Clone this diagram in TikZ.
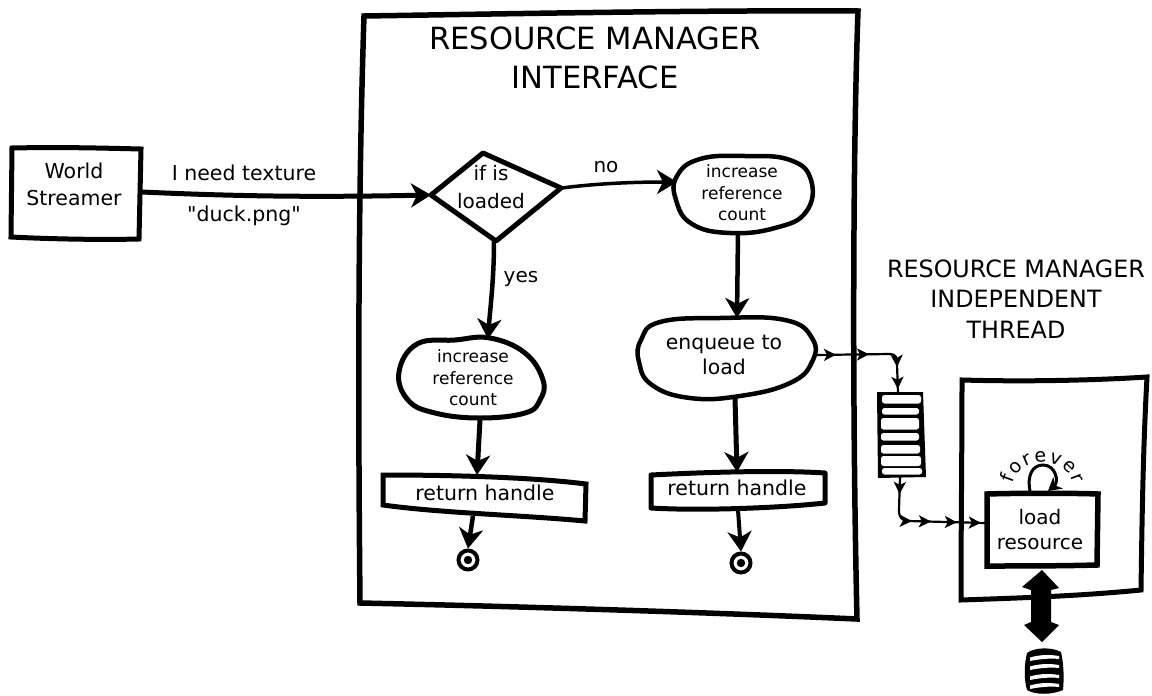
\documentclass[tikz,border=0pt]{standalone}
\usepackage{fontspec}
\setmainfont{DejaVu Sans}[Ligatures=TeXOff]
\usetikzlibrary{arrows.meta,decorations.markings,decorations.text}
\tikzset{
  outline/.style={draw=black,line width=#1,line join=miter,fill=none},
  outline/.default=5pt,
  label/.style={inner sep=0pt,align=center,text=black,font=\fontsize{20.5}{27}\selectfont},
  smalllabel/.style={label,font=\fontsize{17}{21.5}\selectfont},
  titlelabel/.style={label,font=\fontsize{30.6}{39}\selectfont},
  threadlabel/.style={label,font=\fontsize{23.8}{30.5}\selectfont},
  flow/.style={draw=black,line width=#1,-{Stealth[length=20pt,width=24pt,inset=6pt]}},
  flow/.default=4.5pt,
  thinflow/.style={draw=black,line width=2.2pt},
  tinytip/.tip={Stealth[length=12pt,width=12pt,inset=3pt]},
}
\begin{document}
\begin{tikzpicture}[x=1pt,y=-1pt]
\useasboundingbox (0,0) rectangle (1152,696);
\fill[white] (0,0) rectangle (1152,696);

% frames
\draw[outline=5.5pt] (364,16) .. controls (500,14) and (700,10) .. (858,11) .. controls (853,150) and (852,400) .. (857,619) .. controls (700,612) and (500,606) .. (360,603) .. controls (358,400) and (358,200) .. (364,16) -- cycle;
\draw[outline=5pt] (962,380) .. controls (1030,382) and (1100,380) .. (1147,377) .. controls (1143,450) and (1142,520) .. (1141,590) .. controls (1080,596) and (1020,598) .. (961,600) .. controls (961,530) and (962,450) .. (962,380) -- cycle;

% titles
\node[titlelabel] (title) at (595,58) {RESOURCE MANAGER\\INTERFACE};
\node[threadlabel] (threadtitle) at (1016,299) {RESOURCE MANAGER\\INDEPENDENT\\THREAD};

% world streamer
\draw[outline=5pt] (12,148) .. controls (60,147) and (100,148) .. (141,149) -- (139,239) .. controls (100,240) and (50,239) .. (11,237) -- cycle;
\node[label] (world) at (74,184) {World\\Streamer};
\coordinate (worldout) at (142,192);

% diamond
\draw[outline=5pt,line join=round] (431,195) -- (483,153) -- (561,188) -- (496,241) -- cycle;
\node[label,font=\fontsize{20}{28}\selectfont] (decision) at (491,187) {if is\\loaded};
\coordinate (decin) at (431,195);
\coordinate (decright) at (562,188);
\coordinate (decbottom) at (494,241);

% right column
\draw[outline=4.5pt] plot[smooth cycle,tension=0.75] coordinates {(677,176) (700,159) (745,156) (790,160) (811,180) (806,212) (775,228) (730,233) (692,224) (676,200)};
\node[smalllabel] (incr) at (742,193) {increase\\reference\\count};
\coordinate (incrin) at (677,182);
\coordinate (incrout) at (738,232);

\draw[outline=4.5pt] plot[smooth cycle,tension=0.75] coordinates {(641,340) (660,322) (720,318) (785,320) (812,338) (812,362) (790,383) (740,396) (690,398) (652,385) (639,362)};
\node[label,font=\fontsize{20.4}{25}\selectfont] (enq) at (724,355) {enqueue to\\load};
\coordinate (enqin) at (737,318);
\coordinate (enqdown) at (735,398);
\coordinate (enqright) at (815,355);

\draw[outline=5pt,line join=round] (651,475) .. controls (710,472) and (780,470) .. (825,473) -- (825,503) .. controls (780,508) and (700,511) .. (651,508) -- cycle;
\node[label] (rh2) at (737,488) {return handle};
\coordinate (rh2in) at (737,472);
\coordinate (rh2out) at (738,510);

\node[circle,draw=black,line width=4pt,minimum size=19pt,inner sep=0pt] (end2) at (741,563) {};
\fill[black] (end2.center) circle (4.2pt);

% left column
\draw[outline=5pt] plot[smooth cycle,tension=0.7] coordinates {(399,372) (417,344) (455,340) (490,338) (525,353) (543,380) (540,400) (525,413) (480,418) (435,413) (408,400)};
\node[smalllabel] (incl) at (473,378) {increase\\reference\\count};
\coordinate (inclin) at (488,339);
\coordinate (inclout) at (480,420);

\draw[outline=5pt] (383,475) .. controls (450,475) and (530,477) .. (586,484) -- (585,521) .. controls (520,515) and (440,513) .. (383,505) -- cycle;
\node[label] (rh1) at (485,493) {return handle};
\coordinate (rh1in) at (477,475);
\coordinate (rh1out) at (473,516);

\node[circle,draw=black,line width=4pt,minimum size=19pt,inner sep=0pt] (end1) at (468,560) {};
\fill[black] (end1.center) circle (4.2pt);

% labels
\node[label] (need) at (244,173) {I need texture};
\node[label] (duck) at (244,216) {"duck.png"};
\node[label,font=\fontsize{20}{24}\selectfont] (no) at (606,167) {no};
\node[label,font=\fontsize{20}{24}\selectfont] (yes) at (521,279) {yes};

% connectors
\draw[flow=5pt] (worldout) .. controls (250,197) and (330,197) .. (decin);
\draw[flow=3.5pt] (decright) .. controls (600,183) and (640,182) .. (incrin);
\draw[flow=4.5pt] (decbottom) .. controls (494,280) and (490,310) .. (inclin);
\draw[flow=4.5pt] (incrout) -- (enqin);
\draw[flow=5pt] (inclout) -- (rh1in);
\draw[flow=5pt] (enqdown) -- (rh2in);
\draw[flow=4.5pt] (rh1out) -- (end1.north);
\draw[flow=4pt] (rh2out) -- (end2.north);

% queue
\fill[black] (877,392) -- (923,392) -- (926,477) -- (878,478) -- cycle;
\foreach \ya/\yb/\xa/\xb in {395/403.5/882/921, 408/414.5/882/919, 418/429.5/881/919, 433/440.5/881/919, 445/453.5/881/920, 456/466/881/921, 468/474.5/882/922}{
  \fill[white,rounded corners=2.5pt] (\xa,\ya) -- (\xb,\ya) -- (\xb,\yb) -- (\xa,\yb) -- cycle;
}
\coordinate (qin) at (898,393);
\coordinate (qout) at (900,477);

% load resource
\draw[outline=5.5pt] (987,494) .. controls (1020,493) and (1070,493) .. (1098,494) -- (1097,565) .. controls (1060,566) and (1020,566) .. (987,566) -- cycle;
\node[label,font=\fontsize{20}{25}\selectfont] (load) at (1040,530) {load\\resource};
\coordinate (loadin) at (985,523);
\coordinate (loopa) at (1030,491);
\coordinate (loopb) at (1048,491);

% thin flows
\draw[thinflow,postaction={decorate},decoration={markings,
  mark=at position 21pt with {\arrow{tinytip}},
  mark=at position 54pt with {\arrow{tinytip}},
  mark=at position 92pt with {\arrow{tinytip}},
  mark=at position 114pt with {\arrow{tinytip}}}]
  (enqright) -- (890,354) .. controls (896,354) and (897,358) .. (897,364) -- (qin);
\draw[thinflow,postaction={decorate},decoration={markings,
  mark=at position 17pt with {\arrow{tinytip}},
  mark=at position 53pt with {\arrow{tinytip}},
  mark=at position 72pt with {\arrow{tinytip}},
  mark=at position 98pt with {\arrow{tinytip}},
  mark=at position 122pt with {\arrow{tinytip}}}]
  (qout) -- (899,510) .. controls (899,518) and (902,520) .. (908,521) -- (loadin);

% forever loop
\draw[draw=black,line width=3pt,-{Stealth[length=13pt,width=15pt,inset=4pt]}] (loopa) .. controls (1027,476) and (1032,465) .. (1043,465) .. controls (1056,465) and (1059,482) .. (loopb);
\path[decorate,decoration={text along path,text align=fit to path,
  text={|\fontsize{19}{20}\selectfont|forever}}] (1013,484) .. controls (1020,455) and (1066,455) .. (1073,484);

% double arrow
\fill[black] (1042,570) -- (1059,588) -- (1051,590) -- (1051,622) -- (1059,625) -- (1042,642) -- (1024,625) -- (1031,622) -- (1031,590) -- (1022,587) -- cycle;

% database
\fill[black] (1027,653) .. controls (1035,647) and (1052,647) .. (1061,652) .. controls (1064,665) and (1064,680) .. (1063,690) .. controls (1052,695) and (1035,695) .. (1027,690) .. controls (1024,680) and (1024,665) .. (1027,653) -- cycle;
\foreach \yy in {659,668,678,687}{
  \fill[white] (1030,\yy-1.5) .. controls (1040,\yy-4.5) and (1050,\yy-4.5) .. (1059,\yy-3) -- (1059,\yy) .. controls (1050,\yy-1) and (1040,\yy) .. (1030,\yy+2) -- cycle;
}
\end{tikzpicture}
\end{document}
